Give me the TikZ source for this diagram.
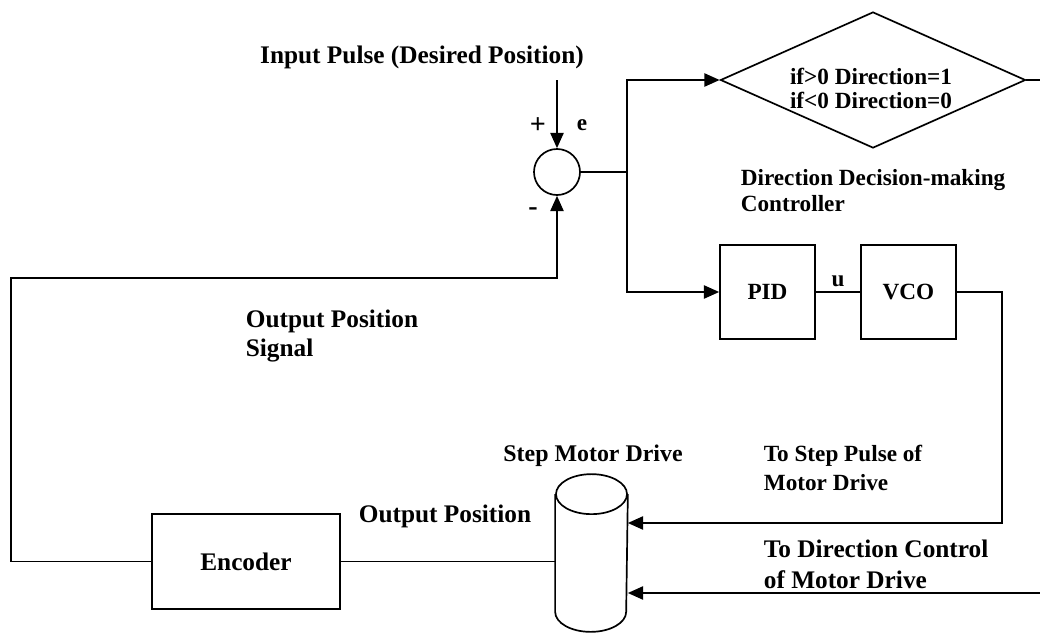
\documentclass[tikz,border=0pt]{standalone}
\usepackage{fontspec}
\setmainfont{Liberation Serif}
\usetikzlibrary{shapes.geometric,arrows.meta,positioning}

\begin{document}
\begin{tikzpicture}[x=0.025cm,y=-0.025cm,line width=1.2pt,
    >={Triangle[length=3.8mm,width=3.3mm]},
    big/.style={font=\bfseries\fontsize{18}{20}\selectfont},
    med/.style={font=\bfseries\fontsize{16.5}{18.5}\selectfont},
    blk/.style={draw,rectangle,inner sep=0pt,minimum width=2.375cm,minimum height=2.35cm,med},
    lbl/.style={align=left,inner sep=0pt,anchor=west}]
    \useasboundingbox (0,0) rectangle (1040,632);

    % blocks
    \node[draw,circle,minimum size=1.15cm,inner sep=0pt] (sum) at (557,172) {};
    \node[draw,diamond,aspect=2.24,minimum width=7.625cm,minimum height=3.4cm,inner sep=0pt] (dec) at (873,80) {};
    \node[align=center,font=\bfseries\fontsize{16.5}{17}\selectfont] (dectxt) at (871,88) {if>0 Direction=1\\if<0 Direction=0};
    \node[blk] (pid) at (767.5,292) {PID};
    \node[blk] (vco) at (908.5,292) {VCO};
    \node[blk,big,minimum width=4.7cm,minimum height=2.375cm] (enc) at (246,561.5) {Encoder};
    % motor drive drum
    \node[minimum width=1.775cm,minimum height=3.9cm,inner sep=0pt] (cyl) at (591.5,553) {};
    \draw ([yshift=-0.5cm]cyl.north west) -- ([yshift=0.5cm]cyl.south west)
        arc[start angle=180,end angle=360,x radius=0.8875cm,y radius=0.5cm]
        -- ([yshift=-0.5cm]cyl.north east);
    \draw ([yshift=-0.5cm]cyl.north) ellipse [x radius=0.8875cm,y radius=0.5cm];

    % free ends
    \coordinate (in) at (557,80);
    \coordinate (jn) at (627,172);
    \coordinate (fb) at (11,278);
    \coordinate (stp) at (1002,523);
    \coordinate (dout) at (1040,80);
    \coordinate (din) at (1040,593);

    % labels
    \node[big] (inlbl) at (422,57) {Input Pulse (Desired Position)};
    \node[font=\bfseries\fontsize{20}{22}\selectfont] (plus) at (538,126) {+};
    \node[med] (elbl) at (582,125) {e};
    \node[font=\bfseries\fontsize{20}{22}\selectfont] (minus) at (533,212) {-};
    \node[lbl,font=\bfseries\fontsize{18}{20}\selectfont] (opsig) at (245,336) {Output Position\\Signal};
    \node[lbl,font=\bfseries\fontsize{16.5}{18.5}\selectfont] (declbl) at (740,191) {Direction Decision-making\\Controller};
    \node[big] (oplbl) at (445,516) {Output Position};
    \node[font=\bfseries\fontsize{17}{19}\selectfont] (cyllbl) at (593,456) {Step Motor Drive};
    \node[lbl,font=\bfseries\fontsize{16.5}{20}\selectfont] (stplbl) at (763,468) {To Step Pulse of\\Motor Drive};
    \node[lbl,font=\bfseries\fontsize{18}{22}\selectfont] (dirlbl) at (763,564) {To Direction Control\\of Motor Drive};

    % connectors
    \draw[->] (in) -- (sum.north);
    \draw (sum.east) -- (jn);
    \draw[->] (jn) |- (dec.west);
    \draw[->] (jn) |- (pid.west);
    \draw (pid.east) -- node[above,med] {u} (vco.west);
    \draw[->] (vco.east) -| (stp) -- (stp -| cyl.east);
    \draw (dec.east) -- (dout);
    \draw[->] (din) -- (din -| cyl.east);
    \draw (enc.east) -- (enc.east -| cyl.west);
    \draw[->] (enc.west) -| (fb) -| (sum.south);
\end{tikzpicture}
\end{document}
